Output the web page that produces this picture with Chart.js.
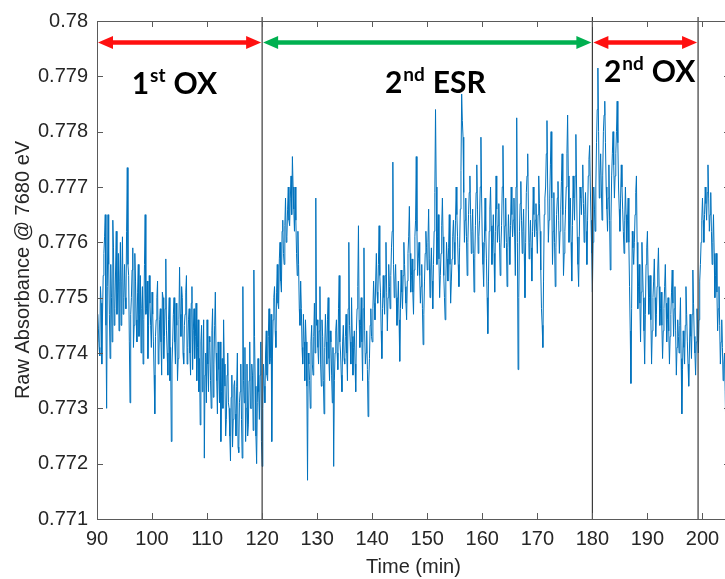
<!DOCTYPE html>
<html>
<head>
<meta charset="utf-8">
<script src="https://cdn.jsdelivr.net/npm/chart.js@4.4.1/dist/chart.umd.min.js"></script>
<style>
  html, body { margin: 0; padding: 0; background: #fff; overflow: hidden; }
  #wrap { width: 740px; height: 579px; }
</style>
</head>
<body>
<div id="wrap"><canvas id="c" width="740" height="579"></canvas></div>
<script>
// ---- data ----
const t0 = 90;        // first sample time (min)
const dt = 0.25;      // step of each list (min); the two lists are offset by dt/2
// samples at t0 + i*dt
const absorbance = [
  // 90-95
  0.77420,0.77445,0.77395,0.77490,0.77465,0.77580,0.77650,0.77300,0.77650,0.77470,
  0.77560,0.77420,0.77590,0.77480,0.77620,0.77510,0.77440,0.77600,0.77530,0.77470,
  // 95-100
  0.77560,0.77480,0.77735,0.77540,0.77310,0.77500,0.77590,0.77450,0.77530,0.77420,
  0.77560,0.77470,0.77400,0.77520,0.77460,0.77650,0.77480,0.77390,0.77540,0.77450,
  // 100-105
  0.77510,0.77420,0.77290,0.77460,0.77530,0.77400,0.77480,0.77360,0.77500,0.77430,
  0.77570,0.77400,0.77460,0.77350,0.77240,0.77420,0.77500,0.77380,0.77450,0.77390,
  // 105-110
  0.77555,0.77430,0.77500,0.77380,0.77470,0.77540,0.77410,0.77480,0.77360,0.77520,
  0.77440,0.77390,0.77490,0.77410,0.77330,0.77270,0.77450,0.77380,0.77210,0.77400,
  // 110-115
  0.77460,0.77330,0.77420,0.77300,0.77480,0.77380,0.77510,0.77350,0.77420,0.77310,
  0.77240,0.77390,0.77460,0.77340,0.77280,0.77400,0.77300,0.77205,0.77360,0.77280,
  // 115-120
  0.77350,0.77250,0.77400,0.77220,0.77330,0.77280,0.77520,0.77310,0.77240,0.77380,
  0.77270,0.77420,0.77300,0.77360,0.77550,0.77340,0.77200,0.77390,0.77280,0.77420,
  // 120-125
  0.77195,0.77380,0.77310,0.77440,0.77350,0.77480,0.77390,0.77240,0.77460,0.77520,
  0.77410,0.77560,0.77480,0.77600,0.77510,0.77640,0.77560,0.77680,0.77610,0.77700,
  // 125-130
  0.77630,0.77720,0.77755,0.77660,0.77700,0.77580,0.77620,0.77480,0.77530,0.77410,
  0.77470,0.77350,0.77420,0.77170,0.77380,0.77300,0.77450,0.77360,0.77490,0.77680,
  // 130-135
  0.77460,0.77380,0.77520,0.77340,0.77430,0.77290,0.77470,0.77380,0.77500,0.77350,
  0.77420,0.77310,0.77195,0.77400,0.77460,0.77370,0.77540,0.77400,0.77330,0.77450,
  // 135-140
  0.77380,0.77470,0.77350,0.77600,0.77420,0.77500,0.77360,0.77440,0.77330,0.77480,
  0.77630,0.77410,0.77500,0.77350,0.77590,0.77380,0.77440,0.77285,0.77390,0.77480,
  // 140-145
  0.77420,0.77530,0.77460,0.77580,0.77490,0.77630,0.77510,0.77390,0.77540,0.77470,
  0.77600,0.77440,0.77560,0.77480,0.77590,0.77745,0.77500,0.77560,0.77450,0.77530,
  // 145-150
  0.77385,0.77550,0.77480,0.77600,0.77520,0.77460,0.77580,0.77665,0.77510,0.77570,
  0.77470,0.77610,0.77755,0.77540,0.77600,0.77490,0.77560,0.77415,0.77530,0.77620,
  // 150-155
  0.77550,0.77660,0.77500,0.77590,0.77480,0.77620,0.77840,0.77560,0.77650,0.77500,
  0.77580,0.77680,0.77540,0.77460,0.77600,0.77530,0.77650,0.77490,0.77570,0.77640,
  // 155-160
  0.77560,0.77700,0.77610,0.77520,0.77660,0.77868,0.77790,0.77600,0.77680,0.77540,
  0.77650,0.77720,0.77580,0.77660,0.77510,0.77630,0.77740,0.77580,0.77640,0.77790,
  // 160-165
  0.77600,0.77520,0.77680,0.77570,0.77435,0.77620,0.77700,0.77560,0.77650,0.77510,
  0.77720,0.77600,0.77670,0.77540,0.77630,0.77775,0.77590,0.77680,0.77520,0.77650,
  // 165-170
  0.77560,0.77700,0.77610,0.77680,0.77540,0.77825,0.77370,0.77620,0.77710,0.77580,
  0.77660,0.77500,0.77690,0.77760,0.77570,0.77640,0.77530,0.77700,0.77610,0.77670,
  // 170-175
  0.77580,0.77720,0.77620,0.77480,0.77410,0.77650,0.77700,0.77820,0.77600,0.77680,
  0.77800,0.77560,0.77690,0.77520,0.77650,0.77710,0.77580,0.77660,0.77760,0.77540,
  // 175-180
  0.77620,0.77700,0.77830,0.77600,0.77680,0.77530,0.77720,0.77640,0.77795,0.77610,
  0.77520,0.77700,0.77650,0.77740,0.77600,0.77690,0.77560,0.77720,0.77775,0.77640,
  // 180-185
  0.77510,0.77700,0.77620,0.77780,0.77915,0.77680,0.77760,0.77640,0.77800,0.77855,
  0.77700,0.77620,0.77740,0.77550,0.77720,0.77800,0.77680,0.77760,0.77855,0.77700,
  // 185-190
  0.77620,0.77740,0.77660,0.77580,0.77700,0.77600,0.77680,0.77520,0.77345,0.77620,
  0.77560,0.77650,0.77720,0.77480,0.77560,0.77420,0.77600,0.77500,0.77380,0.77560,
  // 190-195
  0.77620,0.77470,0.77540,0.77380,0.77500,0.77570,0.77430,0.77520,0.77590,0.77450,
  0.77510,0.77390,0.77480,0.77560,0.77420,0.77500,0.77380,0.77470,0.77550,0.77430,
  // 195-200
  0.77520,0.77360,0.77460,0.77400,0.77500,0.77290,0.77440,0.77380,0.77520,0.77420,
  0.77340,0.77470,0.77390,0.77550,0.77430,0.77360,0.77480,0.77400,0.77530,0.77600,
  // 200-205
  0.77680,0.77600,0.77700,0.77640,0.77740,0.77620,0.77690,0.77560,0.77650,0.77500,
  0.77580,0.77440,0.77520,0.77380,0.77460,0.77350,0.77400,0.77250,0.77310,0.77240
];
// samples at t0 + dt/2 + i*dt
const absorbanceMid = [
  // 90-95
  0.77470,0.77410,0.77520,0.77380,0.77540,0.77610,0.77450,0.77520,0.77560,0.77390,
  0.77500,0.77640,0.77450,0.77550,0.77470,0.77580,0.77530,0.77450,0.77610,0.77500,
  // 95-100
  0.77500,0.77620,0.77560,0.77420,0.77470,0.77550,0.77410,0.77580,0.77460,0.77510,
  0.77430,0.77540,0.77480,0.77380,0.77560,0.77470,0.77530,0.77450,0.77490,0.77410,
  // 100-105
  0.77470,0.77360,0.77430,0.77500,0.77380,0.77460,0.77420,0.77510,0.77390,0.77480,
  0.77440,0.77360,0.77500,0.77410,0.77380,0.77470,0.77420,0.77490,0.77350,0.77460,
  // 105-110
  0.77470,0.77520,0.77400,0.77450,0.77510,0.77380,0.77460,0.77400,0.77490,0.77370,
  0.77480,0.77430,0.77350,0.77460,0.77390,0.77420,0.77330,0.77460,0.77360,0.77310,
  // 110-115
  0.77380,0.77430,0.77350,0.77440,0.77320,0.77450,0.77400,0.77290,0.77370,0.77420,
  0.77330,0.77300,0.77380,0.77250,0.77360,0.77310,0.77250,0.77320,0.77230,0.77340,
  // 115-120
  0.77290,0.77340,0.77230,0.77310,0.77380,0.77210,0.77350,0.77410,0.77300,0.77250,
  0.77350,0.77300,0.77380,0.77260,0.77430,0.77250,0.77310,0.77330,0.77360,0.77240,
  // 120-125
  0.77300,0.77340,0.77400,0.77360,0.77430,0.77380,0.77470,0.77400,0.77500,0.77440,
  0.77510,0.77490,0.77570,0.77530,0.77620,0.77580,0.77630,0.77600,0.77660,0.77640,
  // 125-130
  0.77680,0.77650,0.77700,0.77620,0.77640,0.77540,0.77560,0.77450,0.77480,0.77380,
  0.77420,0.77460,0.77340,0.77400,0.77350,0.77420,0.77380,0.77430,0.77400,0.77450,
  // 130-135
  0.77410,0.77440,0.77380,0.77460,0.77350,0.77410,0.77420,0.77460,0.77390,0.77440,
  0.77360,0.77410,0.77350,0.77440,0.77400,0.77480,0.77420,0.77360,0.77420,0.77390,
  // 135-140
  0.77430,0.77400,0.77480,0.77450,0.77380,0.77430,0.77410,0.77380,0.77440,0.77520,
  0.77460,0.77450,0.77420,0.77480,0.77440,0.77400,0.77370,0.77350,0.77450,0.77430,
  // 140-145
  0.77480,0.77490,0.77530,0.77510,0.77560,0.77540,0.77440,0.77480,0.77500,0.77540,
  0.77510,0.77500,0.77520,0.77540,0.77620,0.77560,0.77530,0.77500,0.77490,0.77460,
  // 145-150
  0.77480,0.77510,0.77540,0.77560,0.77490,0.77530,0.77610,0.77580,0.77540,0.77510,
  0.77550,0.77640,0.77620,0.77570,0.77540,0.77520,0.77480,0.77470,0.77580,0.77590,
  // 150-155
  0.77600,0.77570,0.77550,0.77530,0.77560,0.77690,0.77700,0.77610,0.77570,0.77540,
  0.77630,0.77610,0.77500,0.77530,0.77570,0.77590,0.77560,0.77530,0.77610,0.77600,
  // 155-160
  0.77640,0.77650,0.77560,0.77590,0.77730,0.77820,0.77690,0.77640,0.77610,0.77600,
  0.77690,0.77650,0.77620,0.77580,0.77570,0.77690,0.77660,0.77610,0.77700,0.77680,
  // 160-165
  0.77560,0.77600,0.77620,0.77500,0.77530,0.77660,0.77630,0.77600,0.77580,0.77620,
  0.77660,0.77630,0.77600,0.77590,0.77700,0.77680,0.77630,0.77600,0.77590,0.77610,
  // 165-170
  0.77630,0.77650,0.77640,0.77610,0.77700,0.77600,0.77500,0.77670,0.77640,0.77620,
  0.77580,0.77600,0.77720,0.77660,0.77600,0.77590,0.77620,0.77650,0.77640,0.77620,
  // 170-175
  0.77650,0.77670,0.77550,0.77450,0.77530,0.77680,0.77760,0.77700,0.77640,0.77740,
  0.77680,0.77620,0.77600,0.77590,0.77680,0.77640,0.77620,0.77710,0.77650,0.77580,
  // 175-180
  0.77660,0.77760,0.77720,0.77640,0.77600,0.77630,0.77680,0.77720,0.77700,0.77560,
  0.77610,0.77680,0.77700,0.77670,0.77650,0.77620,0.77640,0.77750,0.77700,0.77580,
  // 180-185
  0.77600,0.77660,0.77700,0.77840,0.77800,0.77720,0.77700,0.77720,0.77830,0.77780,
  0.77660,0.77680,0.77640,0.77640,0.77760,0.77740,0.77720,0.77800,0.77780,0.77660,
  // 185-190
  0.77680,0.77700,0.77620,0.77640,0.77650,0.77640,0.77600,0.77440,0.77480,0.77590,
  0.77600,0.77690,0.77600,0.77520,0.77490,0.77510,0.77550,0.77440,0.77470,0.77590,
  // 190-195
  0.77540,0.77500,0.77460,0.77440,0.77530,0.77500,0.77470,0.77550,0.77520,0.77480,
  0.77450,0.77440,0.77520,0.77490,0.77460,0.77440,0.77430,0.77510,0.77490,0.77480,
  // 195-200
  0.77440,0.77410,0.77430,0.77450,0.77390,0.77370,0.77410,0.77450,0.77470,0.77380,
  0.77400,0.77430,0.77470,0.77490,0.77400,0.77420,0.77440,0.77460,0.77560,0.77640,
  // 200-205
  0.77640,0.77650,0.77670,0.77690,0.77680,0.77650,0.77620,0.77600,0.77580,0.77540,
  0.77510,0.77480,0.77450,0.77420,0.77410,0.77380,0.77330,0.77280,0.77270,0.77220
];
const xTicks = [90,100,110,120,130,140,150,160,170,180,190,200];
const yTicks = [0.771,0.772,0.773,0.774,0.775,0.776,0.777,0.778,0.779,0.78];
const boundaries = [120, 180, 199.2];
const phases = [
  { from: 90,  to: 120,   color: '#ff1010', main: '1', sup: 'st', rest: 'OX',  labelAt: 96.3,  labelY: 0.77868 },
  { from: 120, to: 180,   color: '#00b050', main: '2', sup: 'nd', rest: 'ESR', labelAt: 142.3, labelY: 0.77870 },
  { from: 180, to: 199.2, color: '#ff1010', main: '2', sup: 'nd', rest: 'OX',  labelAt: 182.1, labelY: 0.77889 }
];
const arrowLevel = 0.77961;

const points = [];
absorbance.forEach((v, i) => {
  points.push({ x: t0 + i * dt, y: v });
  if (i < absorbanceMid.length) points.push({ x: t0 + dt / 2 + i * dt, y: absorbanceMid[i] });
});

const axisFont = { family: "'Liberation Sans', Arial, sans-serif", size: 20 };

const overlay = {
  id: 'overlay',
  afterDatasetsDraw(chart) {
    const { ctx, chartArea: a, scales: { x, y } } = chart;
    ctx.save();
    // phase boundary lines
    ctx.strokeStyle = '#3a3a3a';
    ctx.lineWidth = 1.2;
    boundaries.forEach(b => {
      const px = x.getPixelForValue(b);
      ctx.beginPath(); ctx.moveTo(px, a.top - 4); ctx.lineTo(px, a.bottom); ctx.stroke();
    });
    // box + inward ticks
    ctx.strokeStyle = '#5a5a5a';
    ctx.lineWidth = 1;
    ctx.strokeRect(a.left + 0.5, a.top + 0.5, a.right - a.left, a.bottom - a.top);
    ctx.beginPath();
    xTicks.forEach(v => {
      const px = Math.round(x.getPixelForValue(v)) + 0.5;
      ctx.moveTo(px, a.bottom); ctx.lineTo(px, a.bottom - 6);
      ctx.moveTo(px, a.top); ctx.lineTo(px, a.top + 6);
    });
    yTicks.forEach(v => {
      const py = Math.round(y.getPixelForValue(v)) + 0.5;
      ctx.moveTo(a.left, py); ctx.lineTo(a.left + 6, py);
      ctx.moveTo(a.right, py); ctx.lineTo(a.right - 6, py);
    });
    ctx.stroke();
    // arrows
    const ay = y.getPixelForValue(arrowLevel);
    const head = 15, half = 6.5;
    phases.forEach(p => {
      const x1 = x.getPixelForValue(p.from) + 1, x2 = x.getPixelForValue(p.to) - 1;
      ctx.fillStyle = p.color; ctx.strokeStyle = p.color; ctx.lineWidth = 4.5;
      ctx.beginPath(); ctx.moveTo(x1 + head - 2, ay); ctx.lineTo(x2 - head + 2, ay); ctx.stroke();
      ctx.beginPath(); ctx.moveTo(x1, ay); ctx.lineTo(x1 + head, ay - half); ctx.lineTo(x1 + head, ay + half); ctx.closePath(); ctx.fill();
      ctx.beginPath(); ctx.moveTo(x2, ay); ctx.lineTo(x2 - head, ay - half); ctx.lineTo(x2 - head, ay + half); ctx.closePath(); ctx.fill();
    });
    // phase labels
    ctx.fillStyle = '#000';
    ctx.textBaseline = 'alphabetic';
    ctx.textAlign = 'left';
    phases.forEach(p => {
      let px = x.getPixelForValue(p.labelAt);
      const py = y.getPixelForValue(p.labelY);
      ctx.font = "bold 30px Lato, 'Open Sans', sans-serif";
      ctx.fillText(p.main, px, py);
      px += ctx.measureText(p.main).width + 1;
      ctx.font = "bold 19px Lato, 'Open Sans', sans-serif";
      ctx.fillText(p.sup, px, py - 12);
      px += ctx.measureText(p.sup).width + 8;
      ctx.font = "bold 30px Lato, 'Open Sans', sans-serif";
      ctx.fillText(p.rest, px, py);
    });
    ctx.restore();
  }
};

new Chart(document.getElementById('c'), {
  type: 'line',
  data: {
    datasets: [{
      data: points,
      borderColor: '#0072BD',
      borderWidth: 1,
      pointRadius: 0,
      tension: 0,
      fill: false
    }]
  },
  options: {
    responsive: false,
    animation: false,
    events: [],
    layout: { padding: { top: 19, right: 10, left: 0, bottom: 0 } },
    plugins: { legend: { display: false }, tooltip: { enabled: false } },
    scales: {
      x: {
        type: 'linear',
        min: 90, max: 205,
        afterBuildTicks: s => { s.ticks = xTicks.map(v => ({ value: v })); },
        afterFit: s => { s.height = 60; },
        grid: { display: false, drawTicks: false },
        border: { display: false },
        ticks: { font: axisFont, color: '#262626', padding: 8, autoSkip: false, maxRotation: 0,
                 callback: v => String(v) },
        title: { display: true, text: 'Time (min)', font: axisFont, color: '#262626', padding: { top: 0, bottom: 0 } }
      },
      y: {
        type: 'linear',
        min: 0.771, max: 0.78,
        afterBuildTicks: s => { s.ticks = yTicks.map(v => ({ value: v })); },
        afterFit: s => { s.width = 97; },
        grid: { display: false, drawTicks: false },
        border: { display: false },
        ticks: { font: axisFont, color: '#262626', padding: 9, autoSkip: false,
                 callback: v => String(+v.toFixed(3)) },
        title: { display: true, text: 'Raw Absorbance @ 7680 eV', font: axisFont, color: '#262626', padding: { top: 11, bottom: 0 } }
      }
    }
  },
  plugins: [overlay]
});
</script>
</body>
</html>
